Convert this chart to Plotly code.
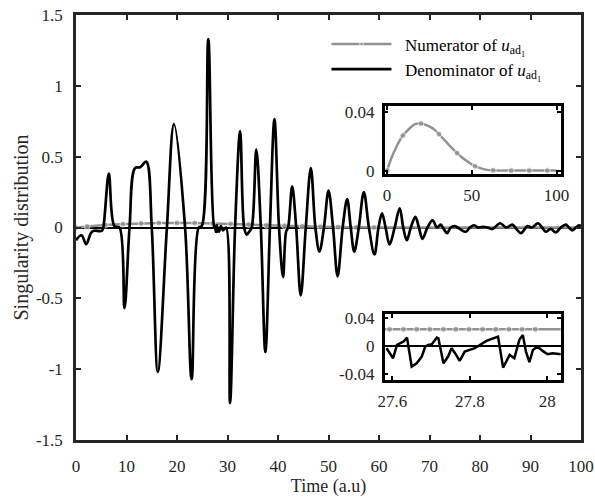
import plotly.graph_objects as go

# ---------------- data ----------------
# Numerator of u_ad1 (main plot and upper inset)
num_t = [0, 2.2, 5.8, 9.3, 12.9, 16.4, 20.0, 23.5, 27.1, 30.6, 34.2, 37.7, 41.3, 44.8,
         48.4, 51.9, 55.5, 59.0, 62.6, 66.1, 69.7, 73.2, 76.8, 80.3, 83.9, 87.4, 91.0,
         94.5, 98.1, 100]
num_v = [0, 0.0075, 0.017, 0.024, 0.0285, 0.0318, 0.0322, 0.031, 0.0288, 0.025, 0.0205,
         0.016, 0.012, 0.0085, 0.0055, 0.003, 0.0015, 0.0005, 0.0002, 0, 0, 0, 0, 0, 0,
         0, 0, 0, 0, 0]

# Denominator of u_ad1 (main plot, coarse extrema / crossings)
den_t = [0, 1.1, 2.0, 2.9, 3.4, 5.1, 5.4, 6.5, 7.6, 8.6, 9.6, 10.6, 11.7, 12.7, 13.9,
         15.0, 16.2, 18.0, 19.4, 21.6, 22.9, 24.3, 24.9, 26.2, 27.4,
         28.3, 28.7, 29.1, 29.7, 30.5, 31.5, 32.5, 33.3, 33.8, 34.3, 34.8, 35.7, 36.6,
         37.5, 38.4, 39.3, 40.2, 41.0, 41.6, 42.0, 42.8, 43.6, 44.5, 45.5, 46.5, 47.4,
         48.2, 49.1, 50.0, 50.9, 51.8, 52.8, 53.7, 54.4, 55.1, 56.0, 57.0, 58.0, 59.1,
         59.9, 60.6, 61.3, 62.1, 63.1, 64.1, 64.8, 65.5, 66.3, 67.2, 67.9, 68.6, 69.6,
         70.6, 71.5, 72.2, 72.8, 73.5, 74.2, 75.0, 76.0, 77.2, 78.0, 78.8, 79.6, 80.5,
         81.5, 82.5, 84.0, 85.2, 86.4, 87.2, 88.1, 89.4, 90.3, 91.5, 92.3, 93.0, 94.0,
         95.0, 96.0, 97.0, 97.6, 98.3, 99.0, 99.6, 100.0]
den_v = [-0.09, -0.055, -0.118, -0.043, -0.024, -0.024, 0.0, 0.38, 0.01, 0.0, -0.57, 0.0,
         0.42, 0.425, 0.465, 0.0, -1.02, 0.0, 0.73, 0.0, -1.07, 0.0, 0.01, 1.33, 0.0,
         -0.03, 0.01, -0.02, 0.0, -1.24, 0.0, 0.68, 0.0, -0.05, -0.03, 0.0, 0.55, 0.0,
         -0.88, 0.0, 0.765, 0.0, -0.35, -0.03, 0.0, 0.29, 0.0, -0.48, 0.0, 0.42, 0.0,
         -0.17, 0.0, 0.26, 0.0, -0.345, 0.0, 0.2, 0.0, -0.17, 0.0, 0.25, 0.0, -0.19,
         0.0, 0.1, 0.0, -0.12, 0.0, 0.135, 0.0, -0.09, 0.0, 0.075, 0.0, -0.08, 0.0,
         0.05, 0.0, 0.02, -0.01, -0.04, 0.0, 0.01, -0.01, -0.03, 0.0, 0.016, 0.0, 0.005,
         0.0, -0.01, 0.03, 0.0, 0.02, -0.01, -0.04, 0.01, 0.0, 0.03, 0.0, -0.03, -0.01,
         -0.035, 0.0, 0.02, 0.0, -0.02, 0.0, 0.015, 0.01]

# Fine detail of the denominator between t = 27.58 and 28.04 (lower inset)
zoom_den_t = [27.585, 27.591, 27.602, 27.612, 27.629, 27.638, 27.650, 27.663, 27.676,
              27.685, 27.693, 27.702, 27.715, 27.719, 27.732, 27.744, 27.753, 27.762,
              27.774, 27.787, 27.800, 27.813, 27.826, 27.843, 27.873, 27.886, 27.903,
              27.915, 27.928, 27.937, 27.945, 27.954, 27.963, 27.975, 27.988, 28.001,
              28.014, 28.035]
zoom_den_v = [-0.003, -0.0078, -0.0172, 0.0016, 0.0064, 0.012, -0.029, -0.0242, -0.0148,
              -0.0007, 0.0016, 0.0026, 0.012, 0.011, -0.0242, -0.0148, -0.003, -0.010,
              -0.021, -0.0078, -0.0054, -0.003, 0.0016, 0.0073, 0.0134, -0.0304, -0.0125,
              -0.0172, 0.0087, 0.0158, -0.0078, -0.0228, -0.0054, -0.0007, -0.0068,
              -0.0115, -0.010, -0.0115]

# Numerator in the same window (lower inset)
zoom_num_t = [27.58, 27.593, 27.629, 27.663, 27.697, 27.732, 27.764, 27.798, 27.833,
              27.867, 27.901, 27.935, 27.969, 28.035]
zoom_num_v = [0.0237] * len(zoom_num_t)

x_ticks = [0, 10, 20, 30, 40, 50, 60, 70, 80, 90, 100]
y_ticks = [-1.5, -1, -0.5, 0, 0.5, 1, 1.5]
y_tick_text = ["-1.5", "-1", "-0.5", "0", "0.5", "1", "1.5"]
in1_x_ticks = [0, 50, 100]
in1_y_ticks = [0, 0.04]
in1_y_text = ["0", "0.04"]
in2_x_ticks = [27.6, 27.8, 28.0]
in2_x_text = ["27.6", "27.8", "28"]
in2_y_ticks = [-0.04, 0, 0.04]
in2_y_text = ["-0.04", "0", "0.04"]

# ---------------- style ----------------
GRAY = "#929292"
FRAME = "#262626"
FONT = "Liberation Serif, Times New Roman, serif"

main_pts = sorted(zip(den_t + zoom_den_t, den_v + zoom_den_v))
main_den_t = [p[0] for p in main_pts]
main_den_v = [p[1] for p in main_pts]

main_marker = [6 if t <= 62 else 0 for t in num_t]
inset_marker = [6 if i % 3 == 0 else 0 for i in range(len(num_t))]
zoom_marker = [0] + [6] * (len(zoom_num_t) - 2) + [0]

NB = "\u00a0\u00a0"
fig = go.Figure()
fig.add_trace(go.Scatter(
    x=num_t, y=num_v, mode="lines+markers",
    line=dict(color=GRAY, width=2.5, shape="spline"),
    marker=dict(size=main_marker, color=GRAY),
    name=NB + "Numerator of <i>u</i><sub>ad<sub>1</sub></sub>"))
fig.add_trace(go.Scatter(
    x=main_den_t, y=main_den_v, mode="lines",
    line=dict(color="black", width=2.7, shape="spline", smoothing=1.0),
    name=NB + "Denominator of <i>u</i><sub>ad<sub>1</sub></sub>"))
fig.add_trace(go.Scatter(
    x=num_t, y=num_v, xaxis="x2", yaxis="y2", mode="lines+markers",
    line=dict(color=GRAY, width=2.5, shape="spline"),
    marker=dict(size=inset_marker, color=GRAY), showlegend=False))
fig.add_trace(go.Scatter(
    x=zoom_num_t, y=zoom_num_v, xaxis="x3", yaxis="y3", mode="lines+markers",
    line=dict(color=GRAY, width=2.5),
    marker=dict(size=zoom_marker, color=GRAY), showlegend=False))
fig.add_trace(go.Scatter(
    x=zoom_den_t, y=zoom_den_v, xaxis="x3", yaxis="y3", mode="lines",
    line=dict(color="black", width=2.5), showlegend=False))

tickfont = dict(family=FONT, size=17, color=FRAME)
common = dict(showgrid=False, ticks="inside", ticklen=5, tickwidth=1.5,
              tickcolor=FRAME, showline=True, linewidth=2.5, linecolor=FRAME,
              mirror="ticks", tickfont=tickfont, automargin=False)
inset_common = dict(showgrid=False, ticks="inside", ticklen=4, tickwidth=1.5,
                    tickcolor="black", showline=True, linewidth=2.5, linecolor="black",
                    mirror="ticks", tickfont=tickfont, automargin=False)

fig.update_layout(
    width=595, height=498,
    margin=dict(l=76, r=14, t=15, b=58, autoexpand=False),
    paper_bgcolor="white", plot_bgcolor="white",
    font=dict(family=FONT, color=FRAME),
    xaxis=dict(domain=[0, 1], range=[0, 100], tickvals=x_ticks, zeroline=False,
               ticklabelstandoff=9,
               title=dict(text="Time (a.u)", font=dict(family=FONT, size=18, color=FRAME),
                          standoff=5),
               **common),
    yaxis=dict(domain=[0, 1], range=[-1.5, 1.5], tickvals=y_ticks, ticktext=y_tick_text,
               zeroline=True, zerolinecolor="black", zerolinewidth=2.2,
               ticklabelstandoff=7,
               title=dict(text="Singularity distribution",
                          font=dict(family=FONT, size=20, color=FRAME), standoff=2),
               **common),
    xaxis2=dict(domain=[0.611, 0.960], range=[-1.5, 102.5], anchor="y2",
                tickvals=in1_x_ticks, zeroline=False, ticklabelstandoff=4, **inset_common),
    yaxis2=dict(domain=[0.627, 0.785], range=[-0.002, 0.044], anchor="x2",
                tickvals=in1_y_ticks, ticktext=in1_y_text, zeroline=False,
                ticklabelstandoff=4, **inset_common),
    xaxis3=dict(domain=[0.611, 0.960], range=[27.58, 28.035], anchor="y3",
                tickvals=in2_x_ticks, ticktext=in2_x_text, zeroline=False,
                ticklabelstandoff=4, **inset_common),
    yaxis3=dict(domain=[0.141, 0.296], range=[-0.048, 0.045], anchor="x3",
                tickvals=in2_y_ticks, ticktext=in2_y_text, zeroline=True,
                zerolinecolor="black", zerolinewidth=2.2, ticklabelstandoff=4,
                **inset_common),
    legend=dict(x=0.496, y=0.973, xanchor="left", yanchor="top",
                bgcolor="rgba(0,0,0,0)", itemwidth=60,
                font=dict(family=FONT, size=17, color="black"), tracegroupgap=0),
    showlegend=True,
)

fig.write_html("out.html", config={"displayModeBar": False},
               post_script="document.body.style.margin='0';")
